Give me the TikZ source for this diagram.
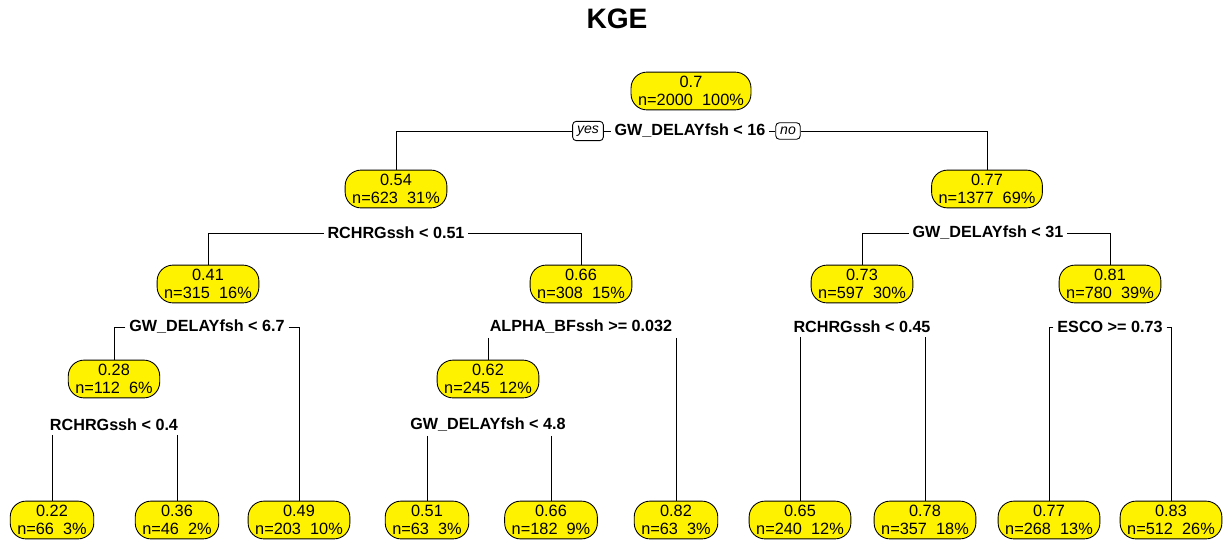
\documentclass[tikz,border=0pt]{standalone}
\usepackage{fontspec}
\setmainfont{Liberation Sans}
\usetikzlibrary{positioning}

\begin{document}
\begin{tikzpicture}[x=0.02cm, y=-0.02cm, line width=0.5pt,
		leaf/.style={draw, fill=yellow, rounded corners=9pt, align=center, inner xsep=4pt, inner ysep=1pt, minimum height=21.5pt, font=\fontsize{9.3}{10.5}\selectfont},
		split/.style={inner xsep=2pt, inner ysep=2pt, font=\fontsize{9.2}{11}\selectfont\bfseries},
		yesno/.style={draw, rounded corners=2pt, inner xsep=2.5pt, inner ysep=2.5pt, font=\fontsize{8}{9}\selectfont\itshape}]
		\useasboundingbox (0, 0) rectangle (1227, 545);

		\node (title) at (617, 19) {\fontsize{16}{19}\selectfont\bfseries KGE};

		% root
		\node[leaf] (n1) at (691, 91) {0.7\\n=2000~~100\%};
		\node[split] (s1) at (690, 131) {GW\_DELAYfsh < 16};
		\node[yesno] (yes) at (588, 131) {yes};
		\node[yesno] (no) at (788, 131) {no};

		% level 1
		\node[leaf] (n2) at (396, 189) {0.54\\n=623~~31\%};
		\node[leaf] (n3) at (987, 189) {0.77\\n=1377~~69\%};
		\node[split] (s2) at (396, 233) {RCHRGssh < 0.51};
		\node[split] (s3) at (988, 233) {GW\_DELAYfsh < 31};

		% level 2
		\node[leaf] (n4) at (208, 284) {0.41\\n=315~~16\%};
		\node[leaf] (n5) at (581, 284) {0.66\\n=308~~15\%};
		\node[leaf] (n6) at (862, 284) {0.73\\n=597~~30\%};
		\node[leaf] (n7) at (1110, 284) {0.81\\n=780~~39\%};
		\node[split] (s4) at (207, 327) {GW\_DELAYfsh < 6.7};
		\node[split] (s5) at (581, 327) {ALPHA\_BFssh >= 0.032};
		\node[split] (s6) at (862, 327) {RCHRGssh < 0.45};
		\node[split] (s7) at (1110, 327) {ESCO >= 0.73};

		% level 3
		\node[leaf] (n8) at (114, 379) {0.28\\n=112~~6\%};
		\node[leaf] (n9) at (488, 379) {0.62\\n=245~~12\%};
		\node[split] (s8) at (114, 425) {RCHRGssh < 0.4};
		\node[split] (s9) at (488, 425) {GW\_DELAYfsh < 4.8};

		% leaves
		\node[leaf] (l1) at (52, 520) {0.22\\n=66~~3\%};
		\node[leaf] (l2) at (177, 520) {0.36\\n=46~~2\%};
		\node[leaf] (l3) at (299, 520) {0.49\\n=203~~10\%};
		\node[leaf] (l4) at (427, 520) {0.51\\n=63~~3\%};
		\node[leaf] (l5) at (551, 520) {0.66\\n=182~~9\%};
		\node[leaf] (l6) at (676, 520) {0.82\\n=63~~3\%};
		\node[leaf] (l7) at (800, 520) {0.65\\n=240~~12\%};
		\node[leaf] (l8) at (925, 520) {0.78\\n=357~~18\%};
		\node[leaf] (l9) at (1049, 520) {0.77\\n=268~~13\%};
		\node[leaf] (l10) at (1171, 520) {0.83\\n=512~~26\%};

		% root split
		\draw (yes.east) -- (s1.west);
		\draw (s1.east) -- (no.west);
		\draw (yes.west) -| (n2);
		\draw (no.east) -| (n3);

		% level 1 splits
		\draw (s2.west) -| (n4);
		\draw (s2.east) -| (n5);
		\draw (s3.west) -| (n6);
		\draw (s3.east) -| (n7);

		% level 2 splits
		\draw (s4.west) -| (n8);
		\draw (s4.east) -| (l3);
		\draw (s5.south -| n9) -- (n9);
		\draw (s5.south -| l6) -- (l6);
		\draw (s6.south -| l7) -- (l7);
		\draw (s6.south -| l8) -- (l8);
		\draw (s7.west) -| (l9);
		\draw (s7.east) -| (l10);

		% level 3 splits
		\draw (s8.south -| l1) -- (l1);
		\draw (s8.south -| l2) -- (l2);
		\draw (s9.south -| l4) -- (l4);
		\draw (s9.south -| l5) -- (l5);
\end{tikzpicture}
\end{document}
